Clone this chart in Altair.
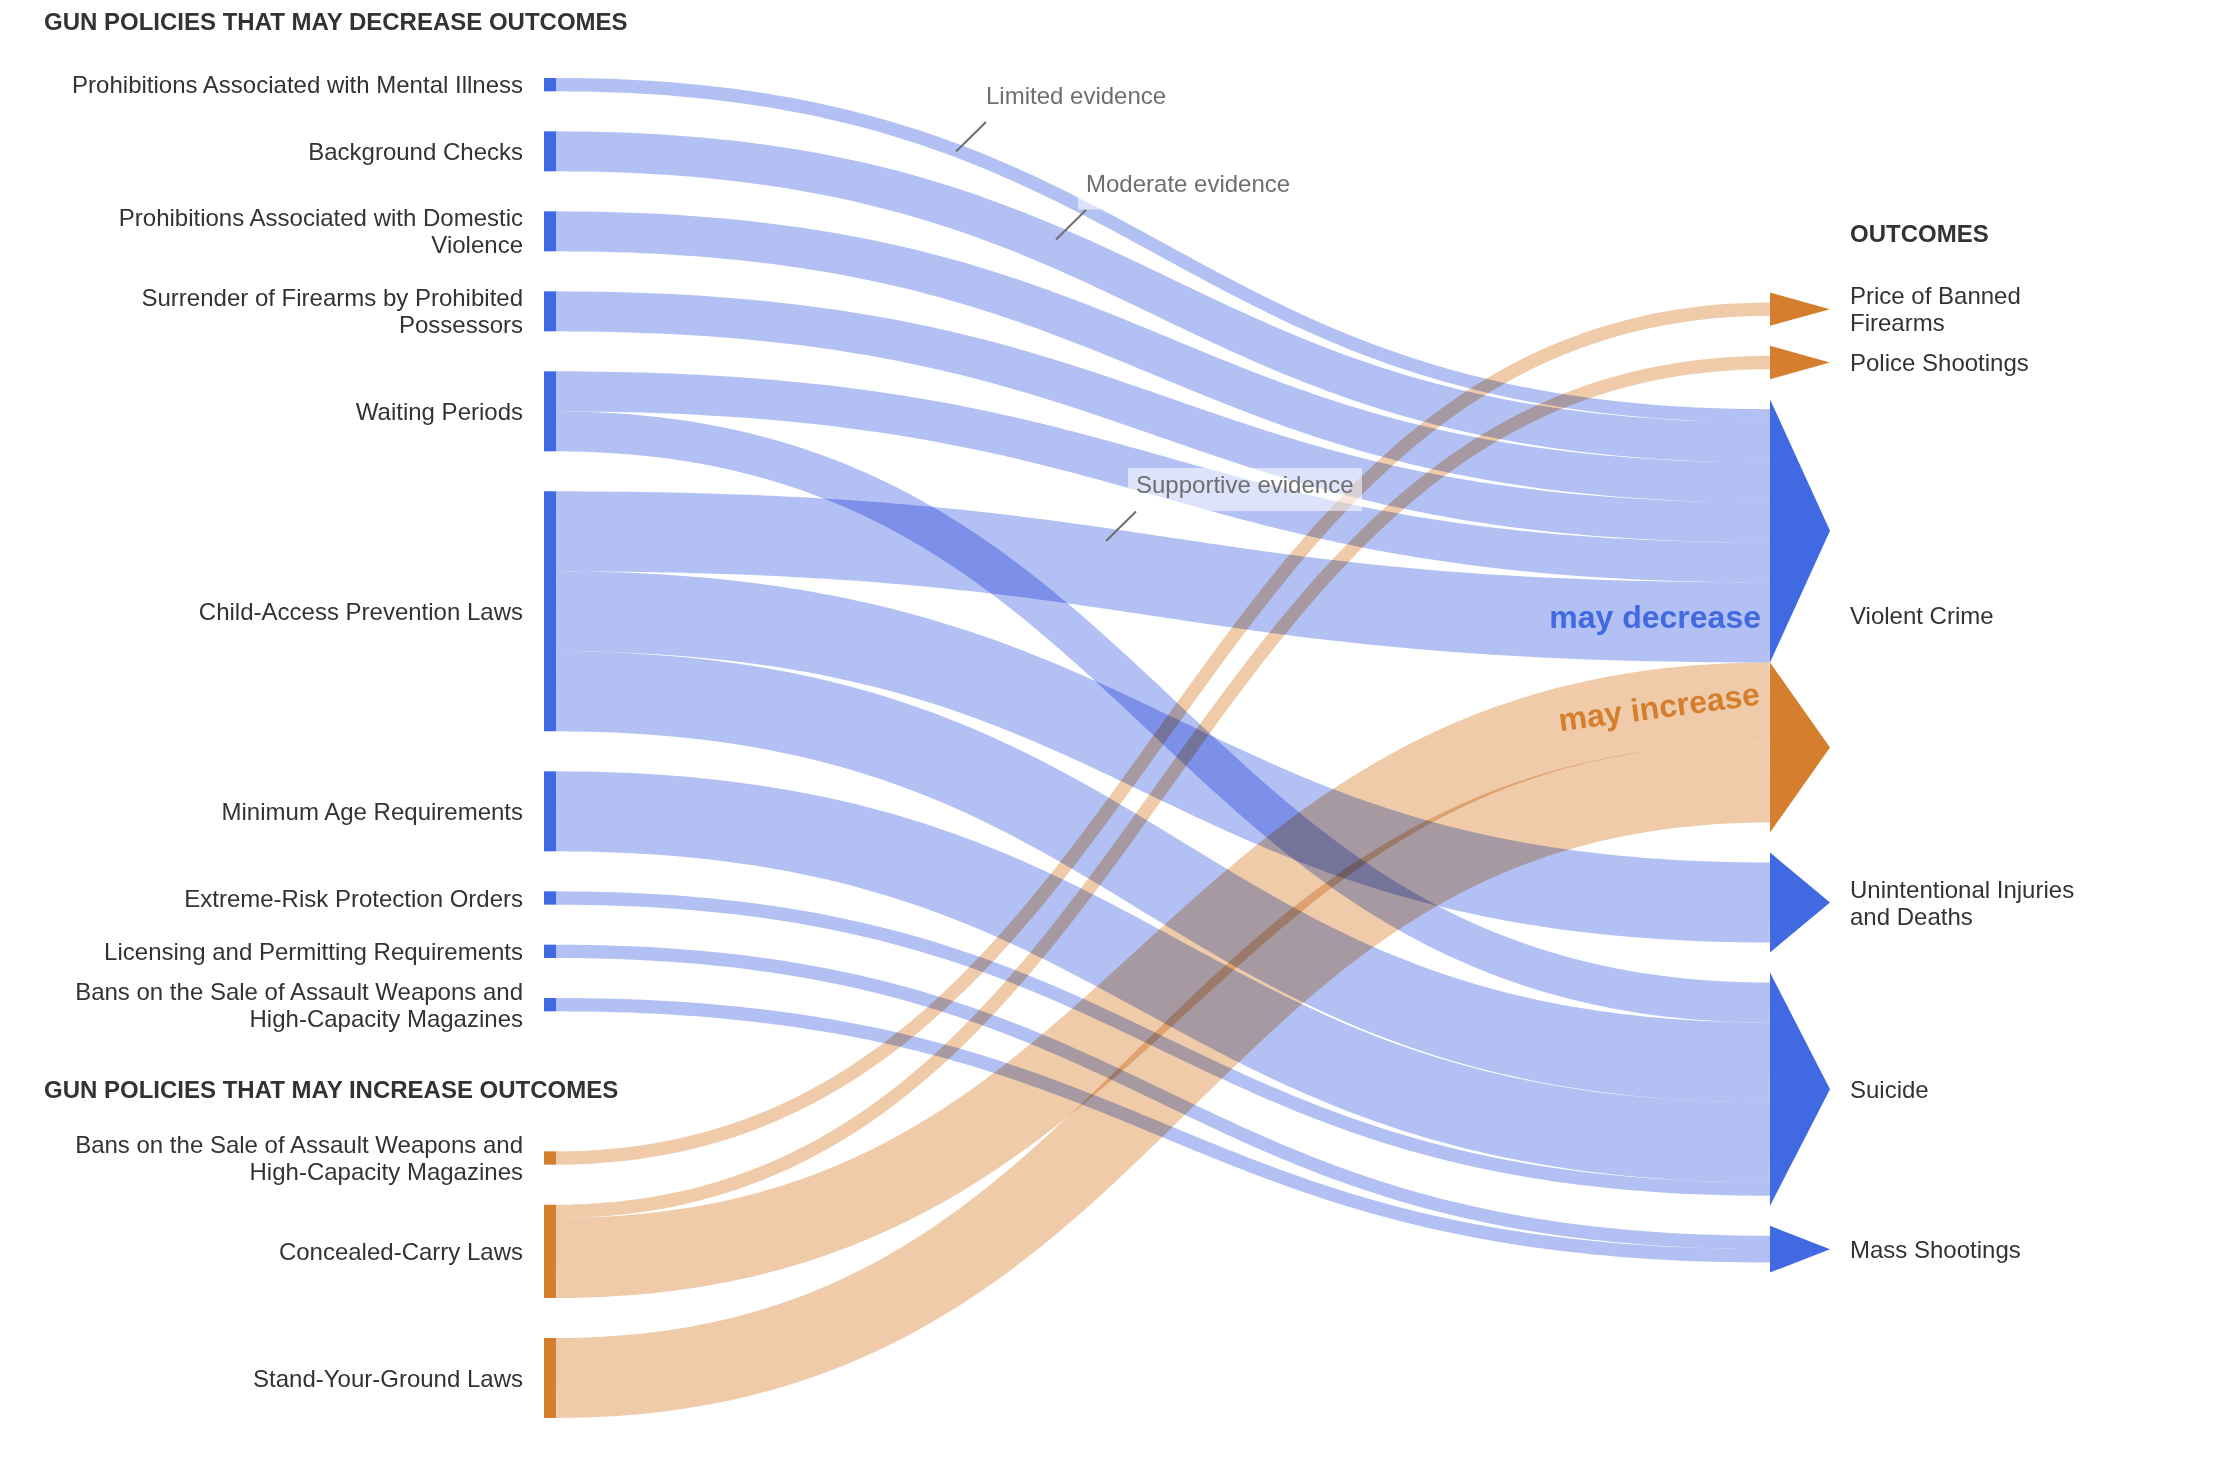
import altair as alt
import pandas as pd
import numpy as np

# ---------------- data ----------------
policy_ids = ["MI", "BC", "DV", "SU", "WP", "CA", "MA", "ER", "LP", "BD", "BI", "CC", "SG"]
policy_labels = [
    "Prohibitions Associated with Mental Illness",
    "Background Checks",
    "Prohibitions Associated with Domestic\nViolence",
    "Surrender of Firearms by Prohibited\nPossessors",
    "Waiting Periods",
    "Child-Access Prevention Laws",
    "Minimum Age Requirements",
    "Extreme-Risk Protection Orders",
    "Licensing and Permitting Requirements",
    "Bans on the Sale of Assault Weapons and\nHigh-Capacity Magazines",
    "Bans on the Sale of Assault Weapons and\nHigh-Capacity Magazines",
    "Concealed-Carry Laws",
    "Stand-Your-Ground Laws",
]
policy_groups = ["decrease"] * 10 + ["increase"] * 3

outcome_ids = ["PR", "PS", "VCd", "VCi", "UI", "SC", "MS"]
outcome_groups = ["increase", "increase", "decrease", "increase", "decrease", "decrease", "decrease"]
outcome_label_names = ["Price of Banned\nFirearms", "Police Shootings", "Violent Crime",
                       "Unintentional Injuries\nand Deaths", "Suicide", "Mass Shootings"]
outcome_label_nodes = [["PR"], ["PS"], ["VCd", "VCi"], ["UI"], ["SC"], ["MS"]]

link_source = ["MI", "BC", "DV", "SU", "WP", "WP", "CA", "CA", "CA", "MA", "ER", "LP", "BD",
               "BI", "CC", "CC", "SG"]
link_target = ["VCd", "VCd", "VCd", "VCd", "VCd", "SC", "VCd", "UI", "SC", "SC", "SC", "MS", "MS",
               "PR", "PS", "VCi", "VCi"]
link_evidence = ["Limited", "Moderate", "Moderate", "Moderate", "Moderate", "Moderate",
                 "Supportive", "Supportive", "Supportive", "Supportive", "Limited", "Limited",
                 "Limited", "Limited", "Limited", "Supportive", "Supportive"]
evidence_weight = {"Limited": 1, "Moderate": 3, "Supportive": 6}

section_titles = ["GUN POLICIES THAT MAY DECREASE OUTCOMES", "GUN POLICIES THAT MAY INCREASE OUTCOMES", "OUTCOMES"]
annotation_texts = ["Limited evidence", "Moderate evidence", "Supportive evidence"]

# ---------------- style / layout ----------------
FONT = "Liberation Sans, Arial, Helvetica, sans-serif"
BLUE, ORANGE = "#4169e1", "#d57f2e"
BLUE_LIGHT, ORANGE_LIGHT = "#b2c0f4", "#efcba9"
TEXT = "#333333"
GREY = "#6e6e6e"

PX_UNIT = 40.0 / 3.0
GAP = 40.0
LEFT_TOP = 78.0
GROUP_GAP = 140.0
RIGHT_TOP = 302.5
BAR_X0, BAR_X1 = 544.0, 556.0
ARR_X0, ARR_X1 = 1770.0, 1830.0
ARR_PAD = 10.0
LINE_H = 27.0
LABEL_DY = 1.5

W_PAGE, H_PAGE = 2216, 1478

# ---------------- sankey layout ----------------
links = pd.DataFrame({"src": link_source, "tgt": link_target, "ev": link_evidence})
links["w"] = links["ev"].map(evidence_weight) * PX_UNIT
links["id"] = range(len(links))

src_total = links.groupby("src")["w"].sum()
tgt_total = links.groupby("tgt")["w"].sum()

left_pos = {}
y = LEFT_TOP
for i, pid in enumerate(policy_ids):
    if i > 0:
        y += GROUP_GAP if policy_groups[i] != policy_groups[i - 1] else GAP
    left_pos[pid] = (y, y + src_total[pid])
    y += src_total[pid]

right_pos = {}
y = RIGHT_TOP
for i, oid in enumerate(outcome_ids):
    if i > 0:
        y += 0.0 if (outcome_ids[i - 1], oid) == ("VCd", "VCi") else GAP
    right_pos[oid] = (y, y + tgt_total[oid])
    y += tgt_total[oid]

src_order = {p: i for i, p in enumerate(policy_ids)}
tgt_order = {o: i for i, o in enumerate(outcome_ids)}

y_src, y_tgt = {}, {}
for pid in policy_ids:
    sub = links[links.src == pid].copy()
    sub["o"] = sub.tgt.map(tgt_order)
    off = left_pos[pid][0]
    for _, r in sub.sort_values("o").iterrows():
        y_src[r.id] = off + r.w / 2
        off += r.w
for oid in outcome_ids:
    sub = links[links.tgt == oid].copy()
    sub["o"] = sub.src.map(src_order)
    off = right_pos[oid][0]
    for _, r in sub.sort_values("o").iterrows():
        y_tgt[r.id] = off + r.w / 2
        off += r.w

group_of = dict(zip(policy_ids, policy_groups))
rows = []
t = np.linspace(0, 1, 120)
for _, r in links.iterrows():
    x0, x1 = BAR_X1, ARR_X0
    xm = (x0 + x1) / 2
    y0, y1 = y_src[r.id], y_tgt[r.id]
    bx = (1 - t) ** 3 * x0 + 3 * (1 - t) ** 2 * t * xm + 3 * (1 - t) * t ** 2 * xm + t ** 3 * x1
    by = (1 - t) ** 3 * y0 + 3 * (1 - t) ** 2 * t * y0 + 3 * (1 - t) * t ** 2 * y1 + t ** 3 * y1
    col = BLUE_LIGHT if group_of[r.src] == "decrease" else ORANGE_LIGHT
    for k in range(len(t)):
        rows.append({"link": int(r.id), "k": k, "x": bx[k], "y": by[k], "w": r.w, "c": col})
link_df = pd.DataFrame(rows)

bar_df = pd.DataFrame({
    "x": BAR_X0, "x2": BAR_X1,
    "y": [left_pos[p][0] for p in policy_ids],
    "y2": [left_pos[p][1] for p in policy_ids],
    "c": [BLUE if g == "decrease" else ORANGE for g in policy_groups],
})

tri_rows = []
for oid, g in zip(outcome_ids, outcome_groups):
    top, bot = right_pos[oid]
    top = top if oid == "VCi" else top - ARR_PAD
    bot = bot if oid == "VCd" else bot + ARR_PAD
    tip = (top + bot) / 2
    col = BLUE if g == "decrease" else ORANGE
    tri_rows.append({"node": oid, "x": ARR_X0, "y": top, "y2": bot, "c": col})
    tri_rows.append({"node": oid, "x": ARR_X1, "y": tip, "y2": tip, "c": col})
tri_df = pd.DataFrame(tri_rows)


def block_top(center, label):
    # first-line position so that a multi-line block is centred on `center`
    return center - (label.count("\n")) * LINE_H / 2 + LABEL_DY


left_lab_df = pd.DataFrame({
    "x": 523.0,
    "y": [block_top((left_pos[p][0] + left_pos[p][1]) / 2, l) for p, l in zip(policy_ids, policy_labels)],
    "t": policy_labels,
})
right_lab_df = pd.DataFrame({
    "x": 1850.0,
    "y": [block_top((right_pos[n[0]][0] + right_pos[n[-1]][1]) / 2, l)
          for n, l in zip(outcome_label_nodes, outcome_label_names)],
    "t": outcome_label_names,
})
title_df = pd.DataFrame({
    "x": [44.0, 44.0, 1850.0],
    "y": [22.6, left_pos["BI"][0] - 60.0, RIGHT_TOP - 68.0],
    "t": section_titles,
})

ann_x = [986.0, 1086.0, 1136.0]
ann_y = [96.5, 184.5, 486.0]
ann_w = [198.0, 220.0, 234.0]
ann_df = pd.DataFrame({"x": ann_x, "y": ann_y, "t": annotation_texts})
box_df = pd.DataFrame({
    "x": [a - 8 for a in ann_x], "x2": [a - 8 + w for a, w in zip(ann_x, ann_w)],
    "y": [b - 18 for b in ann_y], "y2": [b + 25 for b in ann_y],
})
lead_df = pd.DataFrame({
    "x": ann_x, "y": [b + 25.5 for b in ann_y],
    "x2": [a - 30 for a in ann_x], "y2": [b + 55 for b in ann_y],
})

dir_df = pd.DataFrame({
    "x": [ARR_X0 - 9, ARR_X0 - 9],
    "y": [right_pos["VCd"][1] - 35, right_pos["VCi"][0] + 42],
    "t": ["may decrease", "may increase"],
    "c": [BLUE, ORANGE],
    "a": [0.0, 352.4],
})

# ---------------- chart ----------------
XS = alt.Scale(domain=[8, W_PAGE - 8], nice=False, zero=False)
YS = alt.Scale(domain=[8, H_PAGE - 8], nice=False, zero=False, reverse=True)


def X(f="x"):
    return alt.X(f + ":Q", scale=XS, axis=None)


def Y(f="y"):
    return alt.Y(f + ":Q", scale=YS, axis=None)


bands = alt.Chart(link_df).mark_line(strokeCap="butt", blend="multiply").encode(
    x=X(), y=Y(), detail="link:N", order="k:Q",
    color=alt.Color("c:N", scale=None),
    size=alt.Size("w:Q", scale=None),
)
bars = alt.Chart(bar_df).mark_rect().encode(
    x=X(), x2="x2:Q", y=Y(), y2="y2:Q", color=alt.Color("c:N", scale=None)
)
tris = alt.Chart(tri_df).mark_area(orient="vertical", interpolate="linear").encode(
    x=X(), y=Y(), y2="y2:Q", detail="node:N", color=alt.Color("c:N", scale=None)
)
boxes = alt.Chart(box_df).mark_rect(color="white", opacity=0.55).encode(
    x=X(), x2="x2:Q", y=Y(), y2="y2:Q"
)
leads = alt.Chart(lead_df).mark_rule(color=GREY, strokeWidth=2).encode(
    x=X(), x2="x2:Q", y=Y(), y2="y2:Q"
)
ann = alt.Chart(ann_df).mark_text(align="left", baseline="middle", font=FONT, fontSize=24,
                                  color=GREY).encode(x=X(), y=Y(), text="t:N")
left_lab = alt.Chart(left_lab_df).mark_text(
    align="right", baseline="middle", font=FONT, fontSize=24, color=TEXT,
    lineBreak="\n", lineHeight=LINE_H).encode(x=X(), y=Y(), text="t:N")
right_lab = alt.Chart(right_lab_df).mark_text(
    align="left", baseline="middle", font=FONT, fontSize=24, color=TEXT,
    lineBreak="\n", lineHeight=LINE_H).encode(x=X(), y=Y(), text="t:N")
titles = alt.Chart(title_df).mark_text(
    align="left", baseline="middle", font=FONT, fontSize=24, fontWeight="bold",
    color=TEXT).encode(x=X(), y=Y(), text="t:N")
dirs = alt.Chart(dir_df).mark_text(
    align="right", baseline="alphabetic", font=FONT, fontSize=32, fontWeight="bold").encode(
    x=X(), y=Y(), text="t:N", color=alt.Color("c:N", scale=None), angle=alt.Angle("a:Q", scale=None))

chart = alt.layer(bands, bars, tris, boxes, leads, ann, left_lab, right_lab, titles, dirs).properties(
    width=W_PAGE - 16, height=H_PAGE - 16, padding=0,
    autosize=alt.AutoSizeParams(type="none"),
    background="white",
).configure_view(strokeWidth=0)

chart.save("out.html", embed_options={"renderer": "svg", "actions": False})
